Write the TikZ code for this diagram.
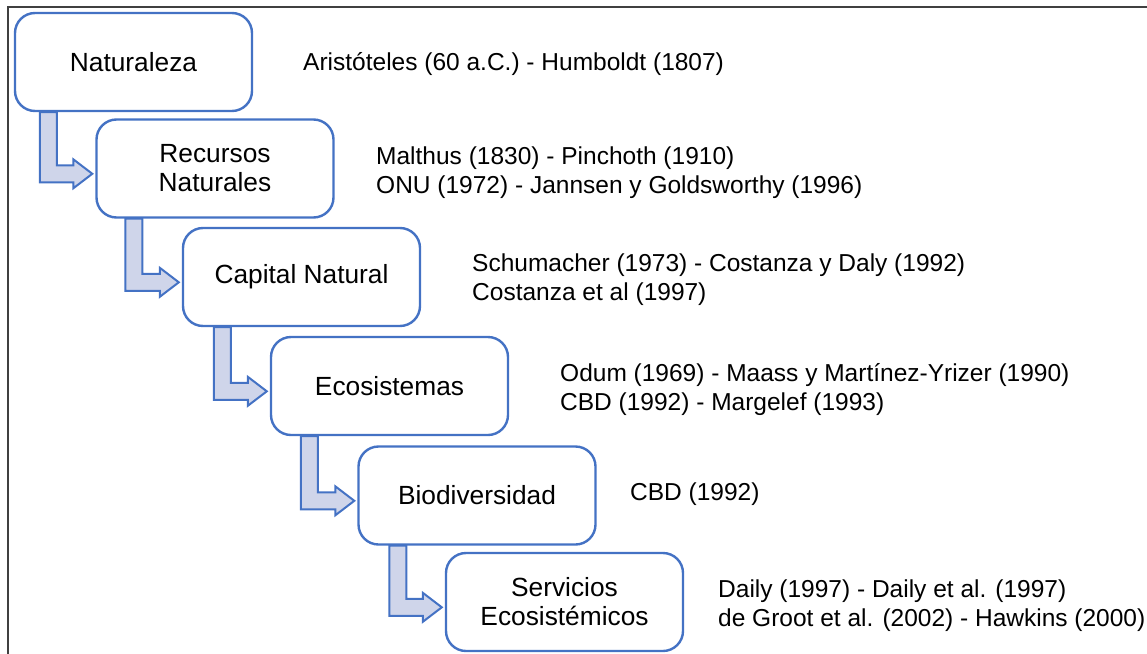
\documentclass[tikz,border=0pt]{standalone}
\usepackage{fontspec}
\setmainfont{Liberation Sans}
\usetikzlibrary{calc,backgrounds}
\definecolor{boxblue}{HTML}{4472C4}
\definecolor{arrowfill}{HTML}{CFD5EA}
\definecolor{framegray}{HTML}{404040}
\begin{document}
\begin{tikzpicture}[x=1pt,y=-1pt,
  stage/.style={draw=boxblue, line width=2.4pt, fill=white, rounded corners=20pt,
    minimum width=237pt, minimum height=98pt, align=center, inner sep=0pt,
    font=\fontsize{26.3}{29}\selectfont},
  ref/.style={anchor=west, align=left, inner sep=0pt,
    font=\fontsize{24.5}{29}\selectfont},
  bent/.style={draw=boxblue, line width=2pt, fill=arrowfill, line join=miter}]
\useasboundingbox (0,0) rectangle (1147,653);
% outer frame (top and left edges)
\draw[framegray, line width=2pt] (8,660) -- (8,7) -- (1150,7);

% stages
\node[stage] (b1) at (133.5,62)  {Naturaleza};
\node[stage] (b2) at (215,168.5) {Recursos\\Naturales};
\node[stage] (b3) at (301.5,277) {Capital Natural};
\node[stage] (b4) at (389.5,386) {Ecosistemas};
\node[stage] (b5) at (477,495.5) {Biodiversidad};
\node[stage] (b6) at (564.5,602) {Servicios\\Ecosistémicos};

% bent block arrows from one stage to the next, kept behind the boxes
\begin{scope}[on background layer]
\foreach \a/\b/\dx in {b1/b2/26pt, b2/b3/30pt, b3/b4/32pt, b4/b5/31pt, b5/b6/32pt}{
  \draw[bent] let \p1=(\a.south west), \p2=(\b.north west) in
    (\x1+\dx,\y1) -- (\x1+\dx,\y2-64pt) -- (\x2-22pt,\y2-64pt)
    -- (\x2-22pt,\y2-70pt) -- (\x2-3pt,\y2-55.5pt) -- (\x2-22pt,\y2-41pt)
    -- (\x2-22pt,\y2-47pt) -- (\x1+\dx+17pt,\y2-47pt) -- (\x1+\dx+17pt,\y1) -- cycle;
}
\end{scope}

% authors for each stage
\node[ref] (r1) at (303,64)    {Aristóteles (60 a.C.) - Humboldt (1807)};
\node[ref] (r2) at (376,172.5) {Malthus (1830) - Pinchoth (1910)\\ONU (1972) - Jannsen y Goldsworthy (1996)};
\node[ref] (r3) at (472,280)   {Schumacher (1973) - Costanza y Daly (1992)\\Costanza et al (1997)};
\node[ref] (r4) at (560,389.5) {Odum (1969) - Maass y Martínez-Yrizer (1990)\\CBD (1992) - Margelef (1993)};
\node[ref] (r5) at (630,494)   {CBD (1992)};
\node[ref] (r6) at (718,606)   {Daily (1997) - Daily et al. (1997)\\de Groot et al. (2002) - Hawkins (2000)};
\end{tikzpicture}
\end{document}
